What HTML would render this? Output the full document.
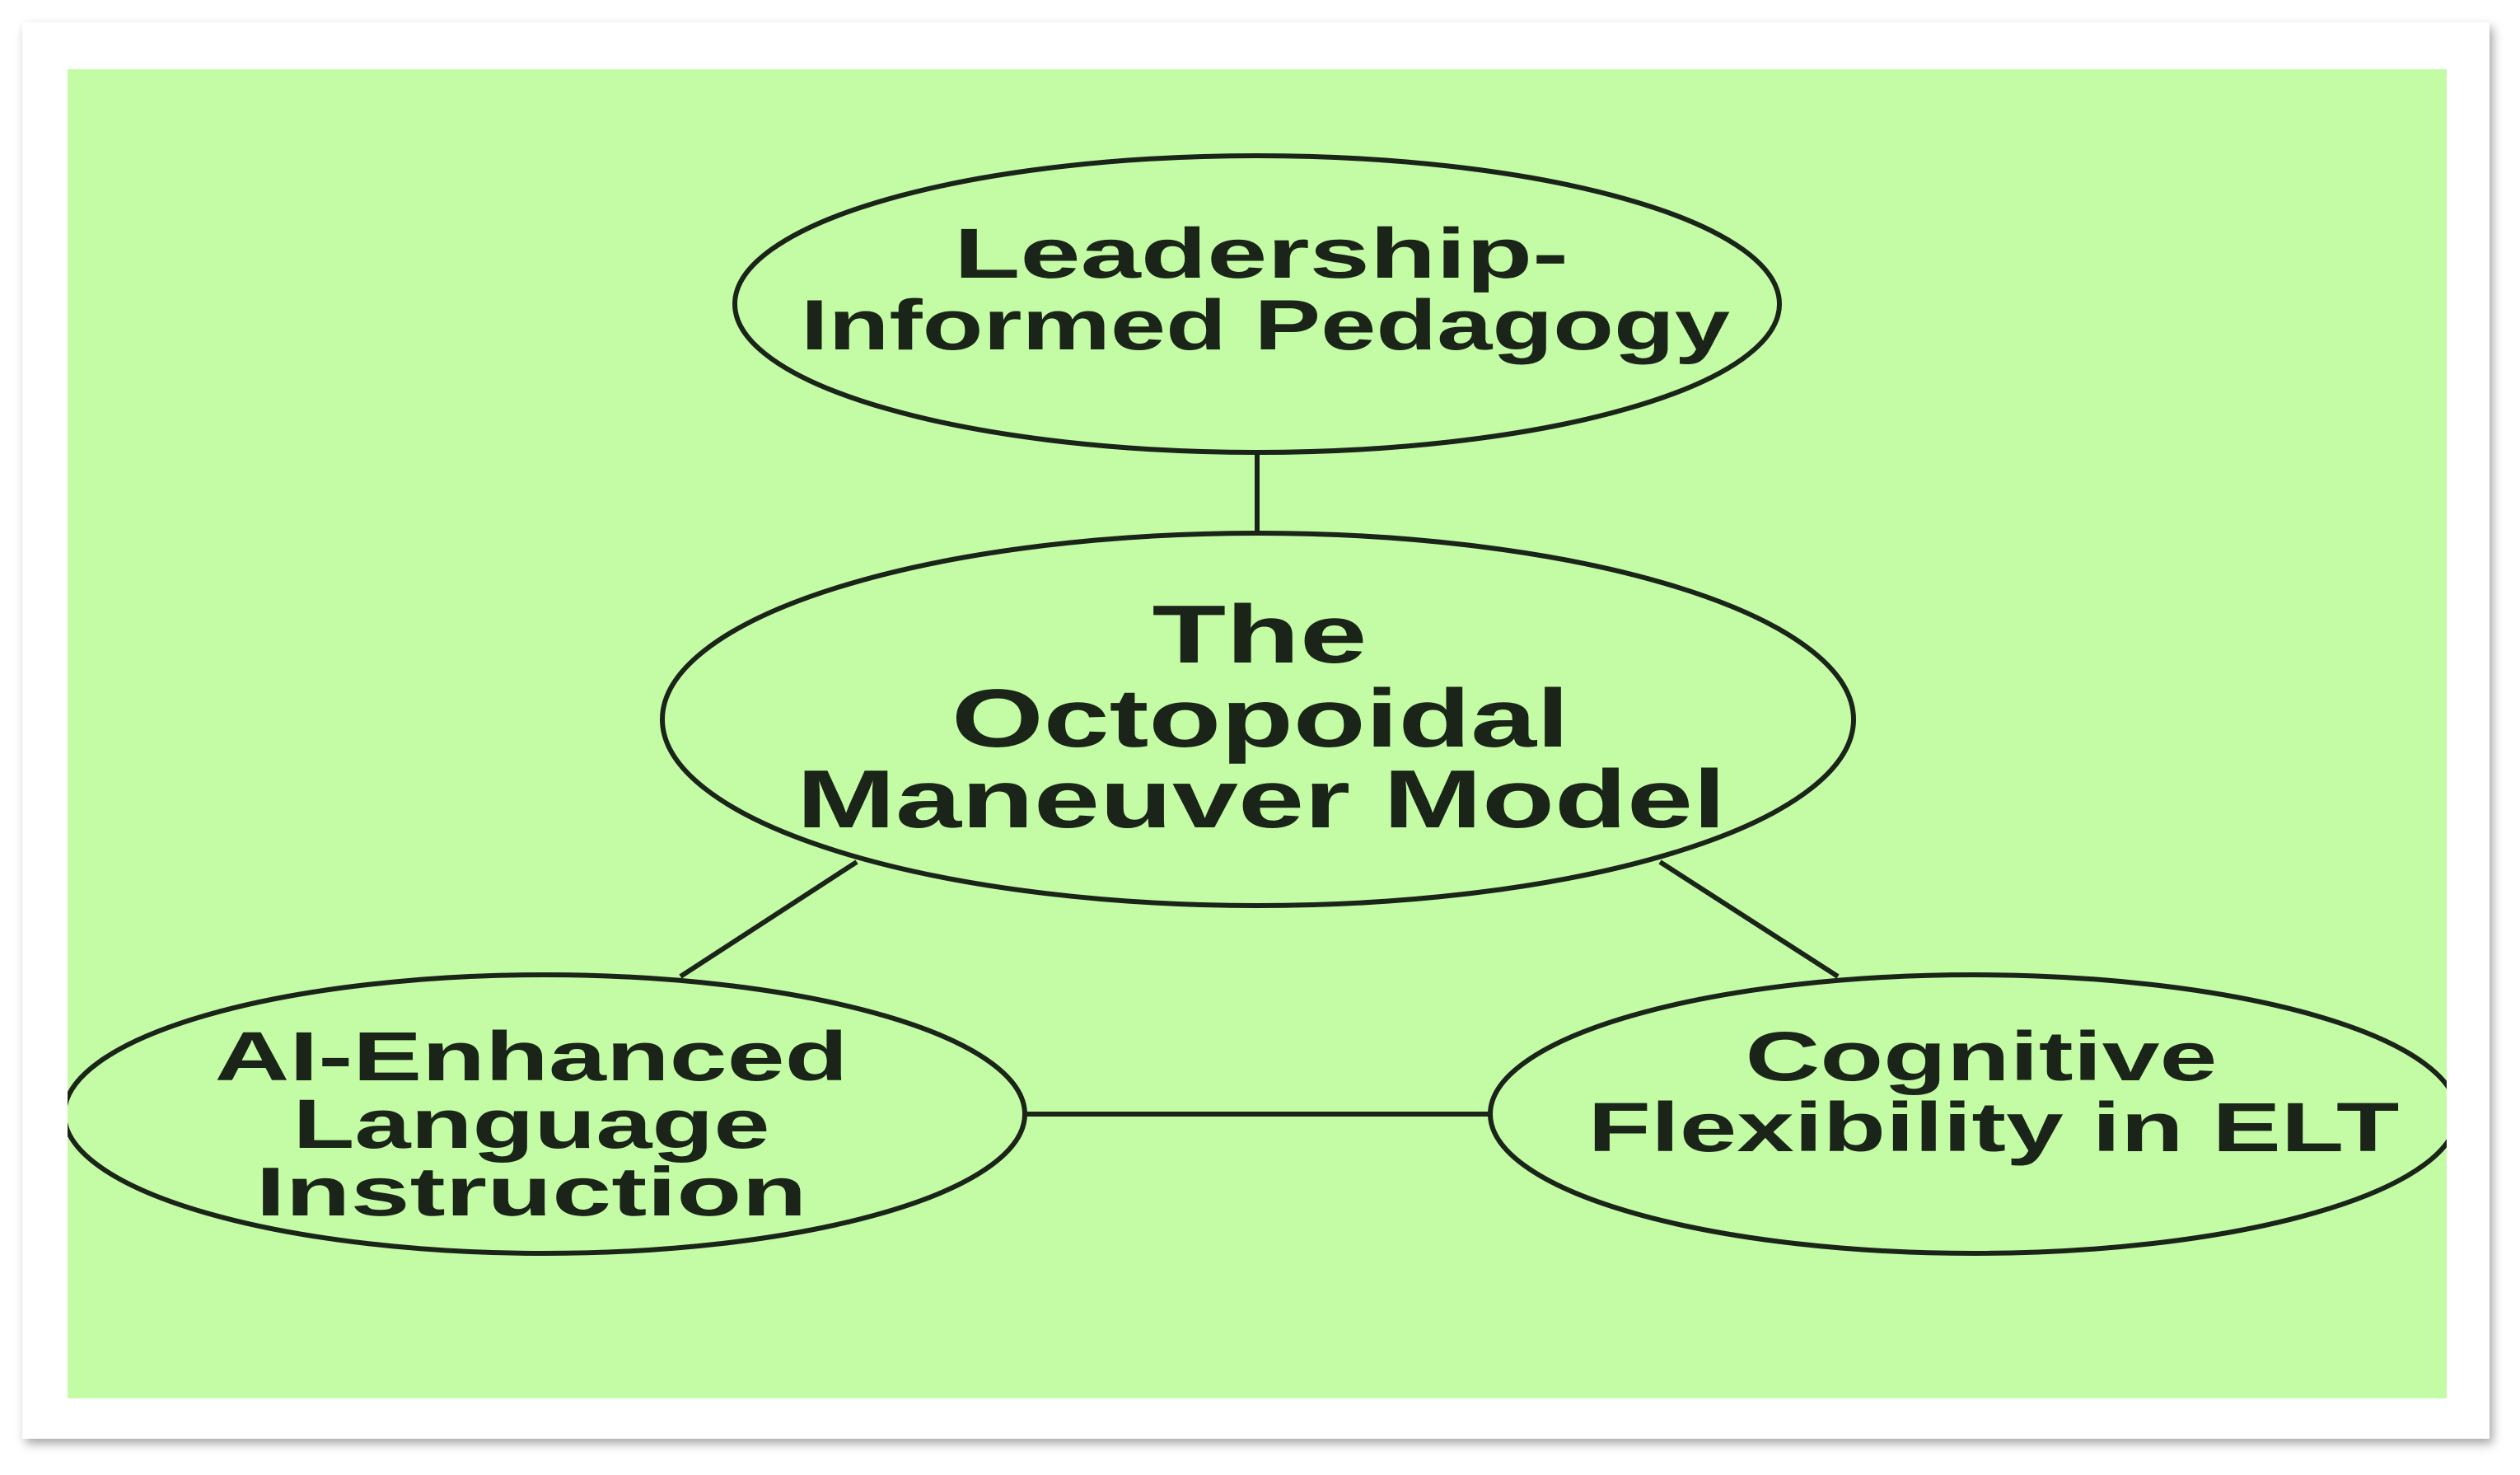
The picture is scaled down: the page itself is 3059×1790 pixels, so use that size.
<!DOCTYPE html>
<html><head><meta charset="utf-8"><style>
html,body{margin:0;padding:0;background:#fff;width:3059px;height:1790px;overflow:hidden}
</style></head><body>
<svg width="3059" height="1790" viewBox="0 0 3059 1790" xmlns="http://www.w3.org/2000/svg">
<defs>
<filter id="sh" x="-5%" y="-5%" width="110%" height="110%"><feDropShadow dx="4" dy="6" stdDeviation="6" flood-color="#000" flood-opacity="0.35"/></filter>
<clipPath id="c"><rect x="82" y="84" width="2888" height="1613"/></clipPath>
</defs>
<rect x="27" y="27" width="2995" height="1719" fill="#fff" filter="url(#sh)"/>
<rect x="82" y="84" width="2888" height="1613" fill="#c4fca6"/>
<g clip-path="url(#c)" fill="none" stroke="#1a2418" stroke-width="6">
<line x1="1526" y1="549" x2="1526" y2="647"/>
<line x1="1040" y1="1046" x2="826" y2="1185"/>
<line x1="2015" y1="1046" x2="2231" y2="1185"/>
<line x1="1244" y1="1352" x2="1809" y2="1352"/>
<ellipse cx="1526" cy="369" rx="634" ry="180"/>
<ellipse cx="1527" cy="873" rx="723" ry="226"/>
<ellipse cx="661" cy="1352" rx="583" ry="169"/>
<ellipse cx="2396" cy="1352" rx="587" ry="169"/>
</g>
<g font-family="Liberation Sans, sans-serif" font-weight="bold" fill="#1a2418" text-anchor="middle">
<text x="1531" y="337" font-size="86" textLength="746" lengthAdjust="spacingAndGlyphs">Leadership-</text>
<text x="1536" y="424" font-size="86" textLength="1128" lengthAdjust="spacingAndGlyphs">Informed Pedagogy</text>
<text x="1529" y="804" font-size="100" textLength="261" lengthAdjust="spacingAndGlyphs">The</text>
<text x="1530" y="906" font-size="100" textLength="750" lengthAdjust="spacingAndGlyphs">Octopoidal</text>
<text x="1531" y="1004" font-size="100" textLength="1128" lengthAdjust="spacingAndGlyphs">Maneuver Model</text>
<text x="645" y="1311" font-size="84" textLength="769" lengthAdjust="spacingAndGlyphs">AI-Enhanced</text>
<text x="645" y="1393" font-size="84" textLength="579" lengthAdjust="spacingAndGlyphs">Language</text>
<text x="645" y="1475" font-size="84" textLength="669" lengthAdjust="spacingAndGlyphs">Instruction</text>
<text x="2405" y="1311" font-size="84" textLength="573" lengthAdjust="spacingAndGlyphs">Cognitive</text>
<text x="2420" y="1397" font-size="84" textLength="985" lengthAdjust="spacingAndGlyphs">Flexibility in ELT</text>
</g>
</svg>
</body></html>
